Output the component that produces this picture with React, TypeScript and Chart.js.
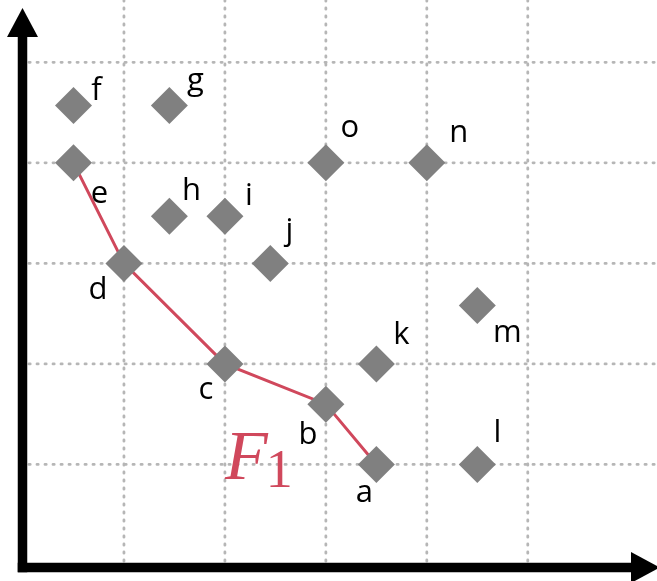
import React, { useEffect, useRef } from 'react';
import { Chart, registerables } from 'chart.js';

Chart.register(...registerables);

// ---- data ----
const pointLabels = ['a', 'b', 'c', 'd', 'e', 'f', 'g', 'h', 'i', 'j', 'k', 'l', 'm', 'n', 'o'];
const xValues = [3.5, 3, 2, 1, 0.5, 0.5, 1.45, 1.45, 2, 2.45, 3.5, 4.5, 4.5, 4, 3];
const yValues = [1, 1.6, 2, 3, 4, 4.57, 4.57, 3.47, 3.47, 3, 2, 1, 2.58, 4, 4];
const frontLabels = ['a', 'b', 'c', 'd', 'e'];
const gridXTicks = [1, 2, 3, 4, 5];
const gridYTicks = [1, 2, 3, 4, 5];
const xMax = 6.28;
const yMax = 5.62;
const frontName = 'F';
const frontSub = '1';
const frontNamePos = { x: 2.0, y: 0.86 };

// ---- styles ----
const RED = '#d0485c';
const GREY = '#808080';
const GRID = '#b6b6b6';
const LABEL_FONT = '31px "Open Sans", "Noto Sans", sans-serif';
const labelOffsets: Record<string, [number, number]> = {
  a: [-12, 38], b: [-18, 40], c: [-19, 35], d: [-26, 36], e: [26, 40],
  f: [23, -6], g: [26, -16], h: [22, -16], i: [24, -11], j: [19, -23],
  k: [25, -20], l: [20, -22], m: [30, 36], n: [32, -21], o: [24, -26],
};

const decorPlugin = {
  id: 'decor',
  beforeDatasetsDraw(chart: any) {
    const { ctx, scales, width } = chart;
    const xs = scales.x, ys = scales.y;
    const x0 = xs.getPixelForValue(0);
    const y0 = ys.getPixelForValue(0);
    ctx.save();
    ctx.strokeStyle = GRID;
    ctx.lineWidth = 2.8;
    ctx.lineCap = 'round';
    ctx.setLineDash([1.2, 6.8]);
    gridYTicks.forEach((v) => {
      const py = ys.getPixelForValue(v);
      ctx.beginPath();
      ctx.moveTo(x0 + 6, py);
      ctx.lineTo(width, py);
      ctx.stroke();
    });
    gridXTicks.forEach((v) => {
      const px = xs.getPixelForValue(v);
      ctx.beginPath();
      ctx.moveTo(px, 0);
      ctx.lineTo(px, y0 - 2);
      ctx.stroke();
    });
    ctx.restore();
  },
  afterDatasetsDraw(chart: any) {
    const { ctx, scales } = chart;
    const xs = scales.x, ys = scales.y;
    const x0 = xs.getPixelForValue(0);
    const y0 = ys.getPixelForValue(0);
    const ax = x0 - 0.5;
    const ay = y0 + 2.5;
    ctx.save();
    // axes
    ctx.fillStyle = '#000';
    ctx.fillRect(ax - 4.75, 37, 9.5, ay + 4.75 - 37);
    ctx.fillRect(ax - 4.75, ay - 4.75, 631 - (ax - 4.75), 9.5);
    ctx.beginPath();
    ctx.moveTo(ax, 8);
    ctx.lineTo(ax - 15.5, 37);
    ctx.lineTo(ax + 15.5, 37);
    ctx.closePath();
    ctx.fill();
    ctx.beginPath();
    ctx.moveTo(660, ay);
    ctx.lineTo(631, ay - 15.5);
    ctx.lineTo(631, ay + 15.5);
    ctx.closePath();
    ctx.fill();

    // point labels
    const meta = chart.getDatasetMeta(0);
    ctx.font = LABEL_FONT;
    ctx.textAlign = 'center';
    ctx.textBaseline = 'alphabetic';
    ctx.fillStyle = '#000';
    pointLabels.forEach((lab, i) => {
      const el = meta.data[i];
      const off = labelOffsets[lab] || [20, -20];
      ctx.fillText(lab, el.x + off[0], el.y + off[1]);
    });

    // front name F_1
    const fx = xs.getPixelForValue(frontNamePos.x);
    const fy = ys.getPixelForValue(frontNamePos.y);
    ctx.fillStyle = RED;
    ctx.textAlign = 'left';
    ctx.font = 'italic 70px "Liberation Serif", "DejaVu Serif", serif';
    ctx.fillText(frontName, fx, fy);
    const w = ctx.measureText(frontName).width;
    ctx.font = '54px "Liberation Serif", "DejaVu Serif", serif';
    ctx.fillText(frontSub, fx + w - 2, fy + 8);
    ctx.restore();
  },
};

export default function App() {
  const canvasRef = useRef<HTMLCanvasElement | null>(null);

  useEffect(() => {
    if (!canvasRef.current) return;
    const points = xValues.map((x, i) => ({ x, y: yValues[i] }));
    const front = frontLabels.map((l) => {
      const i = pointLabels.indexOf(l);
      return { x: xValues[i], y: yValues[i] };
    });
    const chart = new Chart(canvasRef.current, {
      type: 'scatter',
      data: {
        datasets: [
          {
            label: 'points',
            data: points,
            pointStyle: 'rectRot',
            pointRadius: 18.5,
            pointHoverRadius: 18.5,
            backgroundColor: GREY,
            borderColor: GREY,
            borderWidth: 0,
            showLine: false,
          },
          {
            label: 'front',
            data: front,
            showLine: true,
            borderColor: RED,
            borderWidth: 3,
            pointRadius: 0,
            pointHoverRadius: 0,
            fill: false,
          },
        ],
      },
      options: {
        responsive: false,
        animation: false,
        events: [],
        layout: { autoPadding: false, padding: { left: 23, right: 0, top: 0, bottom: 16 } },
        scales: {
          x: { type: 'linear', display: false, min: 0, max: xMax },
          y: { type: 'linear', display: false, min: 0, max: yMax },
        },
        plugins: {
          legend: { display: false },
          tooltip: { enabled: false },
        },
      },
      plugins: [decorPlugin],
    });
    return () => chart.destroy();
  }, []);

  return (
    <div style={{ position: 'fixed', left: 0, top: 0, width: 657, height: 581, background: '#fff' }}>
      <canvas ref={canvasRef} width={657} height={581} style={{ display: 'block' }} />
    </div>
  );
}
